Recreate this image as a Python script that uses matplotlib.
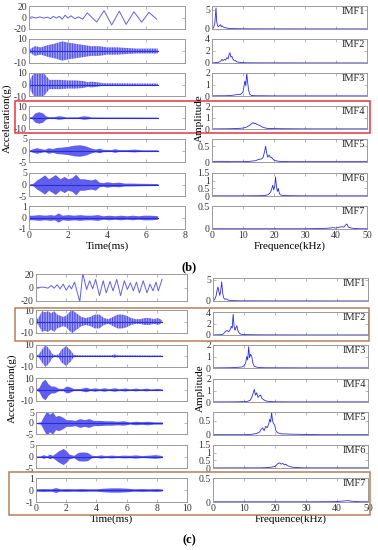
from matplotlib import pyplot as plt
from matplotlib.patches import Rectangle
import numpy as np

plt.rcParams['font.family'] = ['Liberation Serif', 'DejaVu Serif']
plt.rcParams['hatch.linewidth'] = 0.5
plt.rcParams['axes.unicode_minus'] = False

W, H = 378, 550
BLUE = '#2a2ae6'

# ---------------- (b) time signals ----------------
# IMF1 extrema (t ms, g)
b1_t = [0, 0.15, 0.35, 0.55, 0.75, 0.95, 1.1, 1.25, 1.4, 1.55, 1.7, 1.85, 2.0, 2.15, 2.35, 2.55,
        2.75, 2.99, 3.47, 3.85, 4.24, 4.63, 4.98, 5.38, 5.78, 6.15, 6.55]
b1_v = [0, 1, -1, 1, -1, 0.5, -2, 2, -1, 2, -3, 4, -1, 3, -2, 1,
        -3, 8, -8, 12, -13, 11, -12, 10, -8, 9, -3]
# envelopes (t ms, amplitude g)
b2_t = [0, 0.3, 0.6, 1.0, 1.3, 1.7, 2.0, 2.4, 2.8, 3.2, 3.6, 4.0, 4.5, 5.0, 5.5, 6.0, 6.6]
b2_a = [1, 4, 3, 5, 6, 8, 7, 6, 5, 4, 4, 3, 3, 2.5, 2, 2, 2]
b3_t = [0, 0.1, 0.3, 0.5, 0.7, 0.9, 1.05, 1.2, 1.6, 2.0, 2.4, 2.8, 3.0, 3.2, 3.5, 3.8, 4.5, 5.5, 6.6]
b3_a = [0, 6, 11, 13, 11, 7, 4, 4, 4, 3.5, 3.5, 3, 2, 2.5, 2, 1, 1, 0.8, 0.8]
b4_t = [0, 0.15, 0.3, 0.5, 0.7, 0.85, 1.0, 1.3, 1.5, 1.7, 1.9, 2.5, 2.8, 3.0, 3.2, 4, 5, 6.6]
b4_a = [0.3, 1, 4, 5, 4, 1.5, 0.7, 0.8, 1.5, 1.2, 0.5, 0.6, 1.5, 1.2, 0.5, 0.4, 0.4, 0.3]
b5_t = [0, 0.2, 0.4, 0.6, 0.8, 1.0, 1.2, 1.4, 1.7, 2.0, 2.3, 2.6, 2.9, 3.2, 3.4, 3.6, 3.8, 4.2,
        4.4, 4.6, 5.0, 5.4, 5.8, 6.6]
b5_a = [0.2, 0.8, 1.2, 0.8, 0.5, 1.2, 0.8, 1.3, 1.5, 1.8, 2.3, 2.5, 2, 1, 0.6, 1, 0.5, 0.4,
        0.8, 0.4, 0.4, 0.6, 0.3, 0.3]
b6_t = [0, 0.2, 0.4, 0.6, 0.8, 1.0, 1.2, 1.35, 1.6, 1.8, 2.0, 2.2, 2.4, 2.6, 2.8, 3.0, 3.2, 3.4,
        3.6, 3.8, 4.0, 4.3, 4.6, 4.9, 5.3, 5.8, 6.6]
b6_a = [0.2, 0.5, 2, 3, 4.2, 2.5, 3.5, 4.3, 2.5, 3.5, 2.5, 3, 4.5, 2.5, 2.5, 2.2, 2, 2.5,
        1, 0.8, 1.2, 0.8, 1, 0.6, 0.6, 0.5, 0.4]
b7_t = [0, 0.2, 0.5, 0.8, 1.1, 1.3, 1.5, 1.7, 2.0, 2.3, 2.6, 2.9, 3.2, 3.5, 3.8, 4.1, 4.4, 4.7,
        5.0, 5.3, 5.6, 5.9, 6.2, 6.6]
b7_a = [0.2, 0.2, 0.25, 0.2, 0.25, 0.2, 0.4, 0.2, 0.25, 0.2, 0.25, 0.2, 0.2, 0.25, 0.15, 0.2,
        0.15, 0.2, 0.15, 0.2, 0.15, 0.2, 0.2, 0.15]

# ---------------- (b) spectra (kHz, amplitude) ----------------
bs1_f = [0, 0.5, 0.9, 1.1, 1.3, 1.5, 1.8, 2.1, 2.4, 2.7, 3.0, 3.3, 3.6, 4.0, 4.5, 5, 6, 8, 10, 15, 20, 30, 40, 50]
bs1_a = [0.1, 0.3, 1.5, 3.5, 5.4, 2, 0.8, 0.6, 0.9, 1.1, 0.6, 0.8, 0.5, 0.4, 0.3, 0.2, 0.1, 0.08,
         0.05, 0.04, 0.03, 0.02, 0.02, 0.02]
bs2_f = [0, 1, 2, 2.8, 3.2, 3.6, 4.0, 4.4, 4.8, 5.2, 5.5, 5.8, 6.1, 6.4, 6.8, 7.2, 7.6, 8, 9, 10,
         12, 15, 20, 30, 40, 50]
bs2_a = [0.02, 0.05, 0.1, 0.3, 0.6, 0.4, 0.6, 0.5, 0.9, 0.7, 1.4, 1.7, 1.0, 1.1, 0.6, 0.4, 0.4,
         0.2, 0.1, 0.05, 0.03, 0.02, 0.02, 0.01, 0.01, 0.01]
bs3_f = [0, 2, 4, 6, 7, 8, 8.5, 9, 9.5, 10, 10.3, 10.6, 10.9, 11.2, 11.5, 11.8, 12.2, 12.6, 13,
         14, 16, 20, 30, 40, 50]
bs3_a = [0.01, 0.02, 0.02, 0.04, 0.08, 0.12, 0.15, 0.12, 0.2, 0.35, 0.8, 1.3, 0.9, 2.0, 1.2, 0.5,
         0.15, 0.06, 0.04, 0.02, 0.02, 0.01, 0.01, 0.01, 0.01]
bs4_f = [0, 5, 8, 10, 11, 12, 12.5, 13, 13.3, 13.7, 14, 14.5, 15, 15.5, 16, 17, 18, 20, 25, 30, 40, 50]
bs4_a = [0.01, 0.02, 0.04, 0.08, 0.15, 0.3, 0.4, 0.5, 0.55, 0.45, 0.5, 0.4, 0.35, 0.3, 0.2, 0.1,
         0.05, 0.03, 0.02, 0.01, 0.01, 0.01]
bs5_f = [0, 2, 4, 6, 8, 10, 12, 14, 15, 16, 16.5, 17, 17.3, 17.6, 18, 18.4, 18.8, 19.2, 19.6, 20,
         21, 22, 25, 30, 40, 50]
bs5_a = [0.02, 0.02, 0.02, 0.01, 0.01, 0.01, 0.02, 0.04, 0.08, 0.1, 0.15, 0.35, 0.5, 0.3, 0.15,
         0.22, 0.15, 0.15, 0.1, 0.06, 0.03, 0.02, 0.01, 0.01, 0.01, 0.01]
bs6_f = [0, 5, 10, 15, 17, 18, 18.5, 19, 19.3, 19.6, 19.9, 20.2, 20.5, 20.8, 21.1, 21.4, 21.7,
         22, 23, 25, 30, 40, 50]
bs6_a = [0.01, 0.01, 0.01, 0.02, 0.03, 0.08, 0.15, 0.3, 0.5, 0.7, 0.4, 0.6, 1.25, 0.6, 0.3, 0.5,
         0.2, 0.08, 0.03, 0.02, 0.01, 0.01, 0.01]
bs7_f = [0, 10, 20, 30, 35, 38, 39, 40, 41, 42, 42.5, 43, 43.5, 44, 45, 46, 48, 50]
bs7_a = [0.005, 0.005, 0.005, 0.005, 0.01, 0.02, 0.03, 0.02, 0.04, 0.05, 0.04, 0.08, 0.11, 0.04,
         0.02, 0.01, 0.005, 0.005]

# ---------------- (c) time signals ----------------
c1_t = [0, 0.5, 0.8, 1.0, 1.2, 1.4, 1.6, 1.8, 2.0, 2.2, 2.35, 2.55, 2.9, 3.1, 3.35, 3.55, 3.75,
        3.95, 4.2, 4.45, 4.65, 4.9, 5.1, 5.35, 5.6, 5.85, 6.05, 6.25, 6.45, 6.65, 6.85, 7.1, 7.35,
        7.55, 7.75, 7.95, 8.1, 8.35]
c1_v = [0, 0.5, -1, 3, -1, 4, -2, 5, -4, 3, -2, 8, -21, 21, -3, 10, -2,
        12, -12, 10, -8, 9, -5, 12, -12, 10, -3, 7, -5, 8, -8, 10, -8,
        5, -5, 8, -5, 12]
c2_t = [0, 0.2, 0.4, 0.6, 0.8, 1.0, 1.2, 1.4, 1.6, 1.8, 2.0, 2.2, 2.4, 2.6, 2.8, 3.0, 3.3, 3.6,
        3.9, 4.2, 4.5, 4.8, 5.1, 5.4, 5.7, 6.0, 6.3, 6.6, 6.9, 7.2, 7.5, 7.8, 8.1, 8.35]
c2_a = [0.5, 4, 9, 8, 9, 7, 9, 6, 5, 4, 5, 8, 10, 8, 6, 4, 3, 4,
        6, 6, 3, 2, 4, 6, 6, 5, 3, 2, 2, 3, 3, 2, 3, 1]
c3_t = [0, 0.2, 0.4, 0.65, 0.9, 1.1, 1.3, 1.5, 1.7, 2.0, 2.3, 2.5, 2.8, 3.5, 4.5, 5.0, 5.2, 5.4,
        6.0, 7.0, 8.35]
c3_a = [0.2, 1.5, 6, 10, 6, 1.5, 0.7, 1.5, 6, 9, 5, 1, 0.6, 0.6, 0.6, 0.6, 1.5, 0.6, 0.6, 0.5, 0.4]
c4_t = [0, 0.2, 0.4, 0.6, 0.8, 1.0, 1.2, 1.5, 1.8, 2.0, 2.2, 2.5, 2.9, 3.3, 3.6, 3.9, 4.2, 4.5,
        4.8, 5.2, 5.5, 5.9, 6.2, 6.6, 6.9, 7.3, 7.6, 8.0, 8.35]
c4_a = [0.3, 2, 7, 9, 5, 3, 3, 1, 1, 3, 2.5, 0.8, 0.8, 2, 0.8, 1.5, 0.7, 1.5,
        0.7, 1.5, 0.7, 1.3, 0.6, 1.2, 0.6, 1.2, 0.5, 1, 0.5]
c5_t = [0, 0.3, 0.5, 0.7, 0.9, 1.1, 1.3, 1.5, 1.8, 2.0, 2.3, 2.6, 2.9, 3.2, 3.5, 3.8, 4.2, 4.6,
        5.0, 5.4, 5.8, 6.2, 6.6, 7.0, 7.4, 7.8, 8.35]
c5_a = [0.2, 0.5, 3, 5.5, 4, 5, 3, 3.5, 2.5, 1.5, 1.5, 1.2, 2, 1.5, 2, 1.2, 1.2, 1,
        1, 0.8, 1, 0.5, 0.8, 0.6, 0.8, 0.5, 0.5]
c6_t = [0, 0.3, 0.5, 0.7, 0.9, 1.1, 1.3, 1.5, 1.8, 2.0, 2.2, 2.5, 2.8, 3.1, 3.4, 3.7, 4.0, 4.3,
        4.6, 5.0, 5.4, 5.8, 6.2, 6.6, 7.0, 7.5, 7.9, 8.35]
c6_a = [0.2, 0.3, 0.8, 0.3, 1, 0.5, 1.5, 2.5, 3.5, 2.5, 1, 0.5, 1.8, 2, 1.8, 0.5, 0.4, 0.7,
        0.4, 0.6, 0.4, 0.6, 0.5, 0.7, 0.4, 0.6, 0.8, 0.4]
c7_t = [0, 0.5, 1.0, 1.3, 1.6, 2.0, 2.5, 3.0, 3.5, 4.0, 4.5, 5.0, 5.5, 6.0, 6.5, 7.0, 7.5, 8.0, 8.35]
c7_a = [0.1, 0.12, 0.1, 0.2, 0.1, 0.12, 0.1, 0.12, 0.1, 0.1, 0.15, 0.18, 0.18, 0.15, 0.1, 0.12,
        0.1, 0.12, 0.08]

# ---------------- (c) spectra ----------------
cs1_f = [0, 0.5, 1, 1.3, 1.6, 1.9, 2.2, 2.5, 2.8, 3.1, 3.4, 3.8, 4.2, 5, 6, 8, 10, 15, 20, 30, 40, 50]
cs1_a = [0.05, 0.3, 1.2, 2.5, 3.3, 2.2, 1.3, 2.5, 4.5, 2.0, 0.8, 0.4, 0.5, 0.2, 0.1, 0.05, 0.04,
         0.03, 0.02, 0.02, 0.01, 0.01]
cs2_f = [0, 1, 2, 3, 3.5, 4, 4.5, 5, 5.3, 5.6, 5.9, 6.2, 6.5, 6.8, 7.1, 7.4, 7.7, 8, 8.5, 9, 10,
         12, 15, 20, 30, 40, 50]
cs2_a = [0.02, 0.03, 0.05, 0.1, 0.3, 0.6, 0.8, 0.6, 0.7, 1.0, 1.5, 1.2, 3.6, 1.5, 0.8, 1.3, 1.6,
         0.8, 0.3, 0.15, 0.08, 0.05, 0.03, 0.02, 0.01, 0.01, 0.01]
cs3_f = [0, 4, 6, 7, 8, 9, 9.5, 10, 10.5, 10.9, 11.2, 11.5, 11.8, 12.1, 12.5, 12.9, 13.3, 14, 15,
         17, 20, 30, 40, 50]
cs3_a = [0.01, 0.02, 0.03, 0.05, 0.06, 0.08, 0.1, 0.2, 0.4, 1.0, 0.7, 1.85, 0.9, 1.2, 1.0, 0.4,
         0.15, 0.08, 0.04, 0.02, 0.02, 0.01, 0.01, 0.01]
cs4_f = [0, 5, 8, 10, 11, 12, 12.5, 13, 13.3, 13.7, 14.1, 14.5, 15, 15.4, 15.8, 16.3, 17, 18, 20,
         25, 30, 40, 50]
cs4_a = [0.01, 0.01, 0.02, 0.03, 0.05, 0.15, 0.4, 0.8, 1.1, 0.6, 0.8, 0.4, 0.55, 0.6, 0.3, 0.2,
         0.1, 0.04, 0.02, 0.01, 0.01, 0.01, 0.01]
cs5_f = [0, 5, 10, 12, 14, 15, 15.5, 16, 16.5, 17, 17.5, 18, 18.3, 18.6, 18.9, 19.2, 19.5, 19.9,
         20.3, 20.8, 22, 25, 30, 35, 40, 50]
cs5_a = [0.01, 0.01, 0.01, 0.02, 0.05, 0.1, 0.2, 0.25, 0.15, 0.3, 0.25, 0.4, 0.55, 0.45, 0.8, 0.5,
         0.4, 0.35, 0.15, 0.08, 0.04, 0.03, 0.02, 0.01, 0.01, 0.01]
cs6_f = [0, 10, 15, 18, 19, 20, 20.5, 21, 21.5, 22, 22.5, 23, 23.5, 24, 25, 26, 28, 30, 40, 50]
cs6_a = [0.005, 0.01, 0.01, 0.03, 0.06, 0.1, 0.2, 0.3, 0.33, 0.25, 0.3, 0.2, 0.25, 0.15, 0.08,
         0.04, 0.02, 0.01, 0.01, 0.01]
cs7_f = [0, 10, 20, 30, 38, 40, 42, 43, 43.6, 44.2, 45, 46, 48, 50]
cs7_a = [0.004, 0.004, 0.004, 0.004, 0.006, 0.01, 0.02, 0.025, 0.03, 0.02, 0.015, 0.01, 0.005, 0.005]

imf_names = ['IMF1', 'IMF2', 'IMF3', 'IMF4', 'IMF5', 'IMF6', 'IMF7']
time_lims = [20, 10, 10, 10, 5, 5, 1]
time_ticks = [[-20, 0, 20], [-10, 0, 10], [-10, 0, 10], [-10, 0, 10], [-5, 0, 5], [-5, 0, 5], [-1, 0, 1]]
b_spec_top = [5.9, 4, 2, 2, 0.73, 1.5, 0.5]
b_spec_ticks = [[0, 5], [0, 2, 4], [0, 1, 2], [0, 1, 2], [0, 0.5], [0, 0.5, 1, 1.5], [0, 0.5]]
c_spec_top = [5.4, 4, 2, 2, 0.8, 1.5, 0.5]
c_spec_ticks = b_spec_ticks

b_time = [(b2_t, b2_a), (b3_t, b3_a), (b4_t, b4_a), (b5_t, b5_a), (b6_t, b6_a), (b7_t, b7_a)]
c_time = [(c2_t, c2_a), (c3_t, c3_a), (c4_t, c4_a), (c5_t, c5_a), (c6_t, c6_a), (c7_t, c7_a)]
b_spec = [(bs1_f, bs1_a), (bs2_f, bs2_a), (bs3_f, bs3_a), (bs4_f, bs4_a), (bs5_f, bs5_a), (bs6_f, bs6_a), (bs7_f, bs7_a)]
c_spec = [(cs1_f, cs1_a), (cs2_f, cs2_a), (cs3_f, cs3_a), (cs4_f, cs4_a), (cs5_f, cs5_a), (cs6_f, cs6_a), (cs7_f, cs7_a)]

# panel pixel rows (top, bottom)
b_rows = [(6, 29), (39, 63), (73, 96), (106, 129), (139, 162), (173, 196), (206, 229)]
c_rows_l = [(274, 301), (310, 333), (345, 367), (378, 401), (412, 434), (445, 468), (478, 502)]
c_rows_r = [(278, 301), (312, 335), (345, 368), (379, 402), (412, 435), (445, 468), (478, 502)]

fig = plt.figure()
fig.set_size_inches(W / 100, H / 100)


def add_ax(x0, x1, y0, y1):
    ax = fig.add_axes([x0 / W, 1 - y1 / H, (x1 - x0) / W, (y1 - y0) / H])
    for s in ax.spines.values():
        s.set_color('#9a9a9a')
        s.set_linewidth(0.7)
    ax.tick_params(direction='in', length=2, width=0.5, labelsize=7, pad=1.5,
                   colors='#9a9a9a', labelcolor='#333333', top=True, right=True)
    return ax


def time_col(x0, x1, rows, imf1, envs, xmax, xticks):
    for i, (y0, y1) in enumerate(rows):
        ax = add_ax(x0, x1, y0, y1)
        if i == 0:
            ax.plot(imf1[0], imf1[1], color='#6060e8', lw=0.7)
        else:
            t, a = envs[i - 1]
            a = np.array(a)
            dense = i >= 3
            ax.fill_between(t, -a, a, facecolor=(0.16, 0.16, 0.9, 0.75 if dense else 0.35),
                            edgecolor=BLUE, hatch=None if dense else '||||||||||', linewidth=0)
            ax.plot([t[0], t[-1]], [0, 0], color=BLUE, lw=0.8)
        lim = time_lims[i]
        ax.set_ylim(-lim, lim)
        ax.set_yticks(time_ticks[i])
        ax.set_xlim(0, xmax)
        ax.set_xticks(xticks)
        if i < 6:
            ax.set_xticklabels([])
        else:
            ax.set_xlabel('Time(ms)', fontsize=8, labelpad=1)


def spec_col(x0, x1, rows, specs, tops, ticks):
    for i, (y0, y1) in enumerate(rows):
        ax = add_ax(x0, x1, y0, y1)
        f, a = specs[i]
        ax.plot(f, a, color=BLUE, lw=0.6)
        ax.set_xlim(0, 50)
        ax.set_ylim(0, tops[i])
        ax.set_yticks(ticks[i])
        ax.set_yticklabels([('%g' % v) for v in ticks[i]])
        ax.set_xticks([0, 10, 20, 30, 40, 50])
        ax.text(0.985, 0.78, imf_names[i], transform=ax.transAxes, ha='right', va='center',
                fontsize=7.5, color='#222222')
        if i < 6:
            ax.set_xticklabels([])
        else:
            ax.set_xlabel('Frequence(kHz)', fontsize=8, labelpad=1)


time_col(29, 185, b_rows, (b1_t, b1_v), b_time, 8, [0, 2, 4, 6, 8])
spec_col(212, 367, b_rows, b_spec, b_spec_top, b_spec_ticks)
time_col(36, 187, c_rows_l, (c1_t, c1_v), c_time, 10, [0, 2, 4, 6, 8, 10])
spec_col(213, 368, c_rows_r, c_spec, c_spec_top, c_spec_ticks)

fig.text(7 / W, 1 - 118 / H, 'Acceleration(g)', rotation=90, ha='center', va='center', fontsize=8)
fig.text(199 / W, 1 - 118 / H, 'Amplitude', rotation=90, ha='center', va='center', fontsize=8)
fig.text(12 / W, 1 - 388 / H, 'Acceleration(g)', rotation=90, ha='center', va='center', fontsize=8)
fig.text(200 / W, 1 - 388 / H, 'Amplitude', rotation=90, ha='center', va='center', fontsize=8)
fig.text(189 / W, 1 - 267 / H, '(b)', ha='center', va='center', fontsize=9, fontweight='bold')
fig.text(189 / W, 1 - 540 / H, '(c)', ha='center', va='center', fontsize=9, fontweight='bold')


def frame(x0, x1, y0, y1, color):
    fig.patches.append(Rectangle((x0 / W, 1 - y1 / H), (x1 - x0) / W, (y1 - y0) / H,
                                 transform=fig.transFigure, fill=False, edgecolor=color, lw=1.1))


frame(15, 370, 101, 133, '#e8333f')
frame(15, 369, 308, 341, '#b5805a')
frame(9, 370, 472, 515, '#b5805a')

fig.savefig('out.png', dpi=100)
